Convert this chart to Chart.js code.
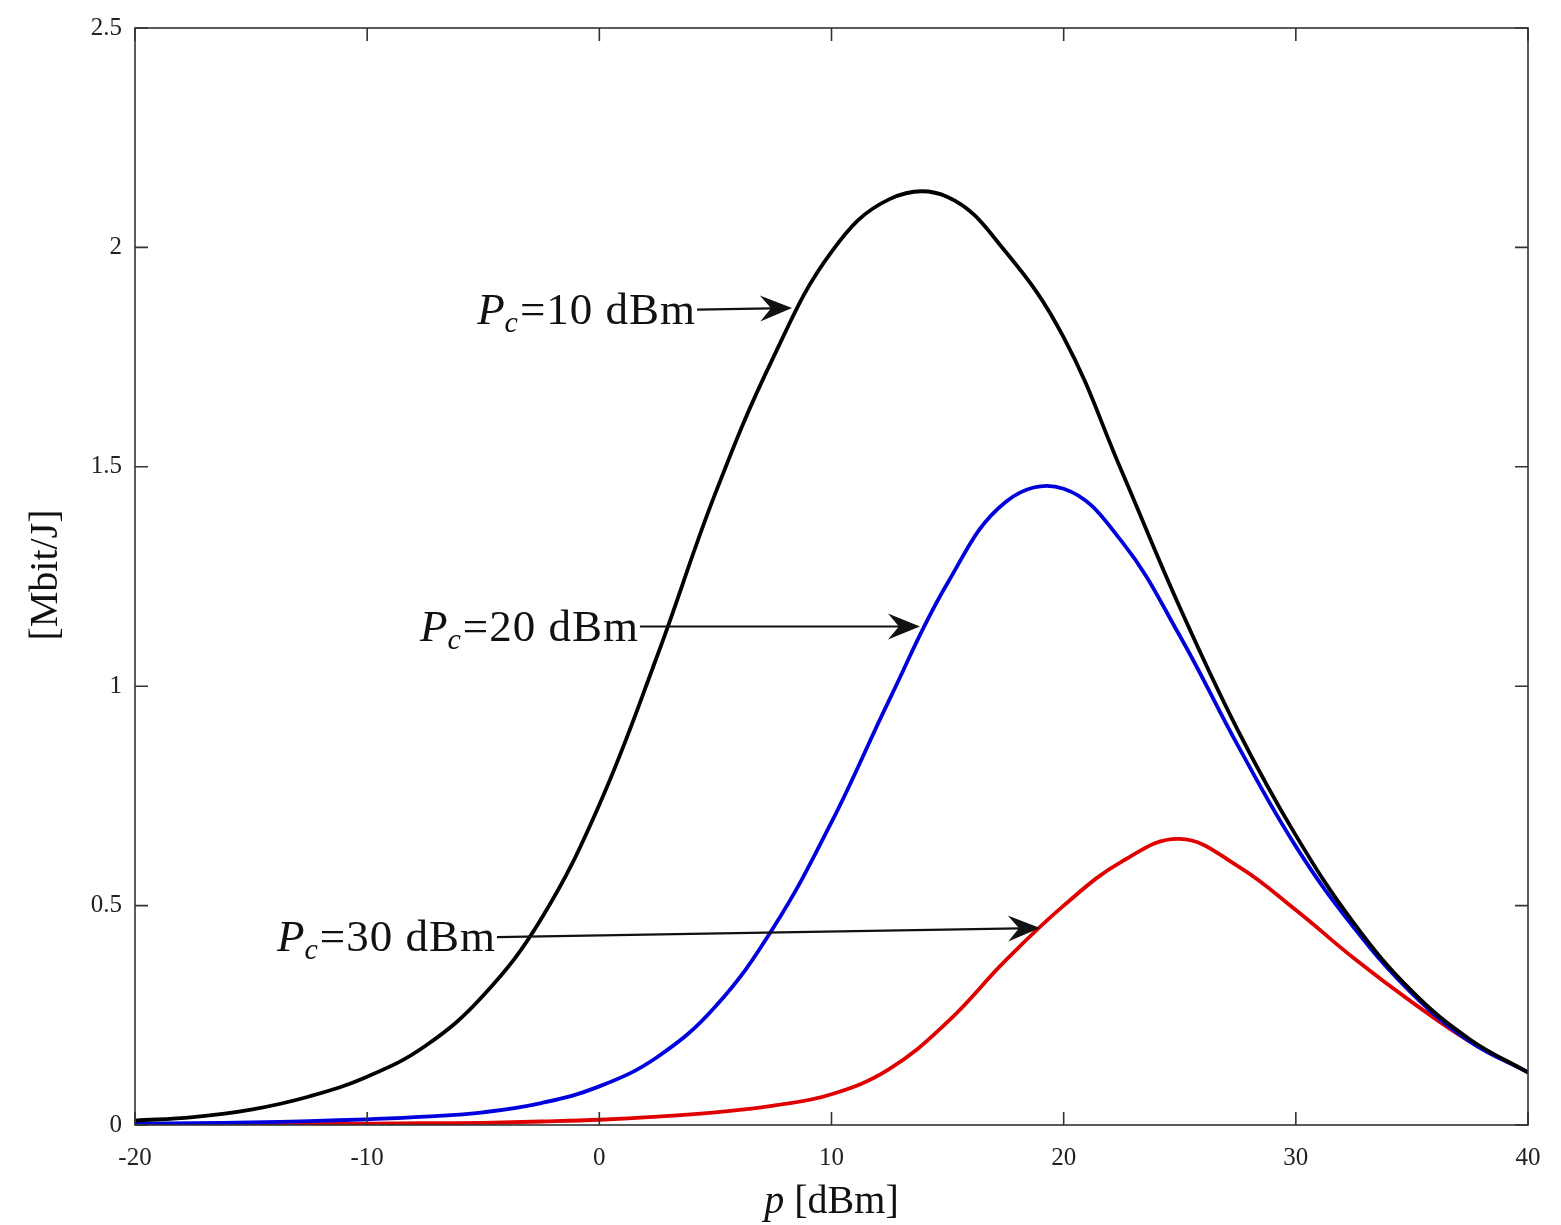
<!DOCTYPE html>
<html>
<head>
<meta charset="utf-8">
<script src="https://cdn.jsdelivr.net/npm/chart.js@4/dist/chart.umd.min.js"></script>
<style>
  html, body { margin: 0; padding: 0; background: #fff; }
  #wrap { width: 1561px; height: 1225px; position: relative; }
</style>
</head>
<body>
<div id="wrap"><canvas id="eeChart"></canvas></div>
<script>
// transmit power p [dBm]
const pDbm = [-20, -17.5, -15, -12.5, -10, -7.5, -5, -2.5, 0, 2.5, 5, 7.5, 10, 12.5, 15, 17.5, 20, 22.5, 25, 27.5, 30, 32.5, 35, 37.5, 40];

// energy efficiency [Mbit/J] for each circuit power Pc
const eePc10 = [0.01, 0.018, 0.035, 0.065, 0.11, 0.18, 0.295, 0.47, 0.73, 1.07, 1.44, 1.75, 1.99, 2.11, 2.115, 1.99, 1.795, 1.49, 1.18, 0.90, 0.66, 0.46, 0.305, 0.195, 0.12];
const eePc20 = [0.003, 0.004, 0.006, 0.009, 0.013, 0.019, 0.029, 0.05, 0.088, 0.155, 0.27, 0.45, 0.69, 0.97, 1.235, 1.42, 1.45, 1.33, 1.115, 0.865, 0.635, 0.45, 0.30, 0.19, 0.12];
const eePc30 = [0.001, 0.001, 0.002, 0.002, 0.003, 0.004, 0.005, 0.008, 0.012, 0.019, 0.029, 0.044, 0.07, 0.128, 0.235, 0.375, 0.50, 0.60, 0.652, 0.59, 0.49, 0.38, 0.28, 0.19, 0.12];

const xTicks = [-20, -10, 0, 10, 20, 30, 40];
const yTicks = [0, 0.5, 1, 1.5, 2, 2.5];

// annotation labels and the data points their arrows run between
const noteValues = ['=10 dBm', '=20 dBm', '=30 dBm'];
const noteFrom = [[4.21, 1.858], [1.75, 1.136], [-4.41, 0.428]];
const noteTo = [[8.30, 1.862], [13.81, 1.136], [18.98, 0.449]];

const SERIF = '"Liberation Serif", "Times New Roman", serif';

function toPoints(vals) {
  return pDbm.map((p, i) => ({ x: p, y: vals[i] }));
}

// frame with inward ticks, arrows, labels and axis titles (MATLAB look)
const matlabFrame = {
  id: 'matlabFrame',
  afterDraw(chart) {
    const { ctx, chartArea: a, scales: { x, y } } = chart;
    ctx.save();
    ctx.strokeStyle = '#333';
    ctx.lineWidth = 1.6;
    ctx.strokeRect(a.left, a.top, a.right - a.left, a.bottom - a.top);

    const tl = 13;
    ctx.beginPath();
    xTicks.forEach(v => {
      const px = x.getPixelForValue(v);
      ctx.moveTo(px, a.bottom); ctx.lineTo(px, a.bottom - tl);
      ctx.moveTo(px, a.top); ctx.lineTo(px, a.top + tl);
    });
    yTicks.forEach(v => {
      const py = y.getPixelForValue(v);
      ctx.moveTo(a.left, py); ctx.lineTo(a.left + tl, py);
      ctx.moveTo(a.right, py); ctx.lineTo(a.right - tl, py);
    });
    ctx.stroke();

    // arrows with labels
    ctx.fillStyle = '#111';
    ctx.strokeStyle = '#111';
    noteValues.forEach((txt, i) => {
      const x0 = x.getPixelForValue(noteFrom[i][0]);
      const y0 = y.getPixelForValue(noteFrom[i][1]);
      const x1 = x.getPixelForValue(noteTo[i][0]);
      const y1 = y.getPixelForValue(noteTo[i][1]);
      const ang = Math.atan2(y1 - y0, x1 - x0);
      const hl = 32, hw = 13, notch = 11;

      ctx.lineWidth = 2.2;
      ctx.beginPath();
      ctx.moveTo(x0, y0);
      ctx.lineTo(x1 - (hl - notch) * Math.cos(ang), y1 - (hl - notch) * Math.sin(ang));
      ctx.stroke();

      ctx.save();
      ctx.translate(x1, y1);
      ctx.rotate(ang);
      ctx.beginPath();
      ctx.moveTo(0, 0);
      ctx.lineTo(-hl, -hw);
      ctx.lineTo(-hl + notch, 0);
      ctx.lineTo(-hl, hw);
      ctx.closePath();
      ctx.fill();
      ctx.restore();

      // label "P_c=.. dBm", right aligned at the arrow start
      const big = '45px ' + SERIF;
      const bigIt = 'italic 45px ' + SERIF;
      const sub = 'italic 30px ' + SERIF;
      ctx.textBaseline = 'alphabetic';
      ctx.letterSpacing = '1px';
      ctx.font = bigIt; const wP = ctx.measureText('P').width;
      ctx.font = sub; const wC = ctx.measureText('c').width;
      ctx.font = big; const wT = ctx.measureText(txt).width;
      let tx = x0 - (wP + wC + wT) - 1;
      const base = y0 + 14;
      ctx.font = bigIt; ctx.fillText('P', tx, base); tx += wP - 1;
      ctx.font = sub; ctx.fillText('c', tx, base + 8); tx += wC + 1;
      ctx.font = big; ctx.fillText(txt, tx, base);
      ctx.letterSpacing = '0px';
    });

    // x axis title: italic p + [dBm]
    const midX = (a.left + a.right) / 2;
    ctx.font = 'italic 40px ' + SERIF;
    const wp = ctx.measureText('p ').width;
    ctx.font = '40px ' + SERIF;
    const wd = ctx.measureText('[dBm]').width;
    let sx = midX - (wp + wd) / 2;
    ctx.textBaseline = 'alphabetic';
    ctx.font = 'italic 40px ' + SERIF;
    ctx.fillText('p ', sx, 1213);
    ctx.font = '40px ' + SERIF;
    ctx.fillText('[dBm]', sx + wp, 1213);

    // y axis title
    ctx.save();
    ctx.translate(46, 575);
    ctx.rotate(-Math.PI / 2);
    ctx.textAlign = 'center';
    ctx.textBaseline = 'middle';
    ctx.font = '40px ' + SERIF;
    ctx.fillText('[Mbit/J]', 0, 0);
    ctx.restore();

    ctx.restore();
  }
};

const lineStyle = { borderWidth: 3.8, pointRadius: 0, fill: false, tension: 0.4 };

new Chart(document.getElementById('eeChart').getContext('2d'), {
  type: 'line',
  data: {
    datasets: [
      Object.assign({ label: 'Pc=10 dBm', data: toPoints(eePc10), borderColor: '#000000', order: 0 }, lineStyle),
      Object.assign({ label: 'Pc=20 dBm', data: toPoints(eePc20), borderColor: '#0000dd', order: 1 }, lineStyle),
      Object.assign({ label: 'Pc=30 dBm', data: toPoints(eePc30), borderColor: '#e00000', order: 2 }, lineStyle)
    ]
  },
  options: {
    responsive: true, maintainAspectRatio: false, animation: false,
    layout: { padding: { left: 0, top: 27, right: 33, bottom: 0 } },
    plugins: { legend: { display: false }, tooltip: { enabled: false } },
    scales: {
      x: {
        type: 'linear', min: -20, max: 40,
        afterBuildTicks: s => { s.ticks = xTicks.map(v => ({ value: v })); },
        afterFit: s => { s.height = 100; },
        grid: { display: false, drawTicks: false }, border: { display: false },
        ticks: { color: '#222', padding: 18, maxRotation: 0, font: { family: SERIF, size: 25 }, callback: v => String(v) }
      },
      y: {
        type: 'linear', min: 0, max: 2.5,
        afterBuildTicks: s => { s.ticks = yTicks.map(v => ({ value: v })); },
        afterFit: s => { s.width = 135; },
        grid: { display: false, drawTicks: false }, border: { display: false },
        ticks: { color: '#222', padding: 13, font: { family: SERIF, size: 25 }, callback: v => String(v) }
      }
    }
  },
  plugins: [matlabFrame]
});
</script>
</body>
</html>
